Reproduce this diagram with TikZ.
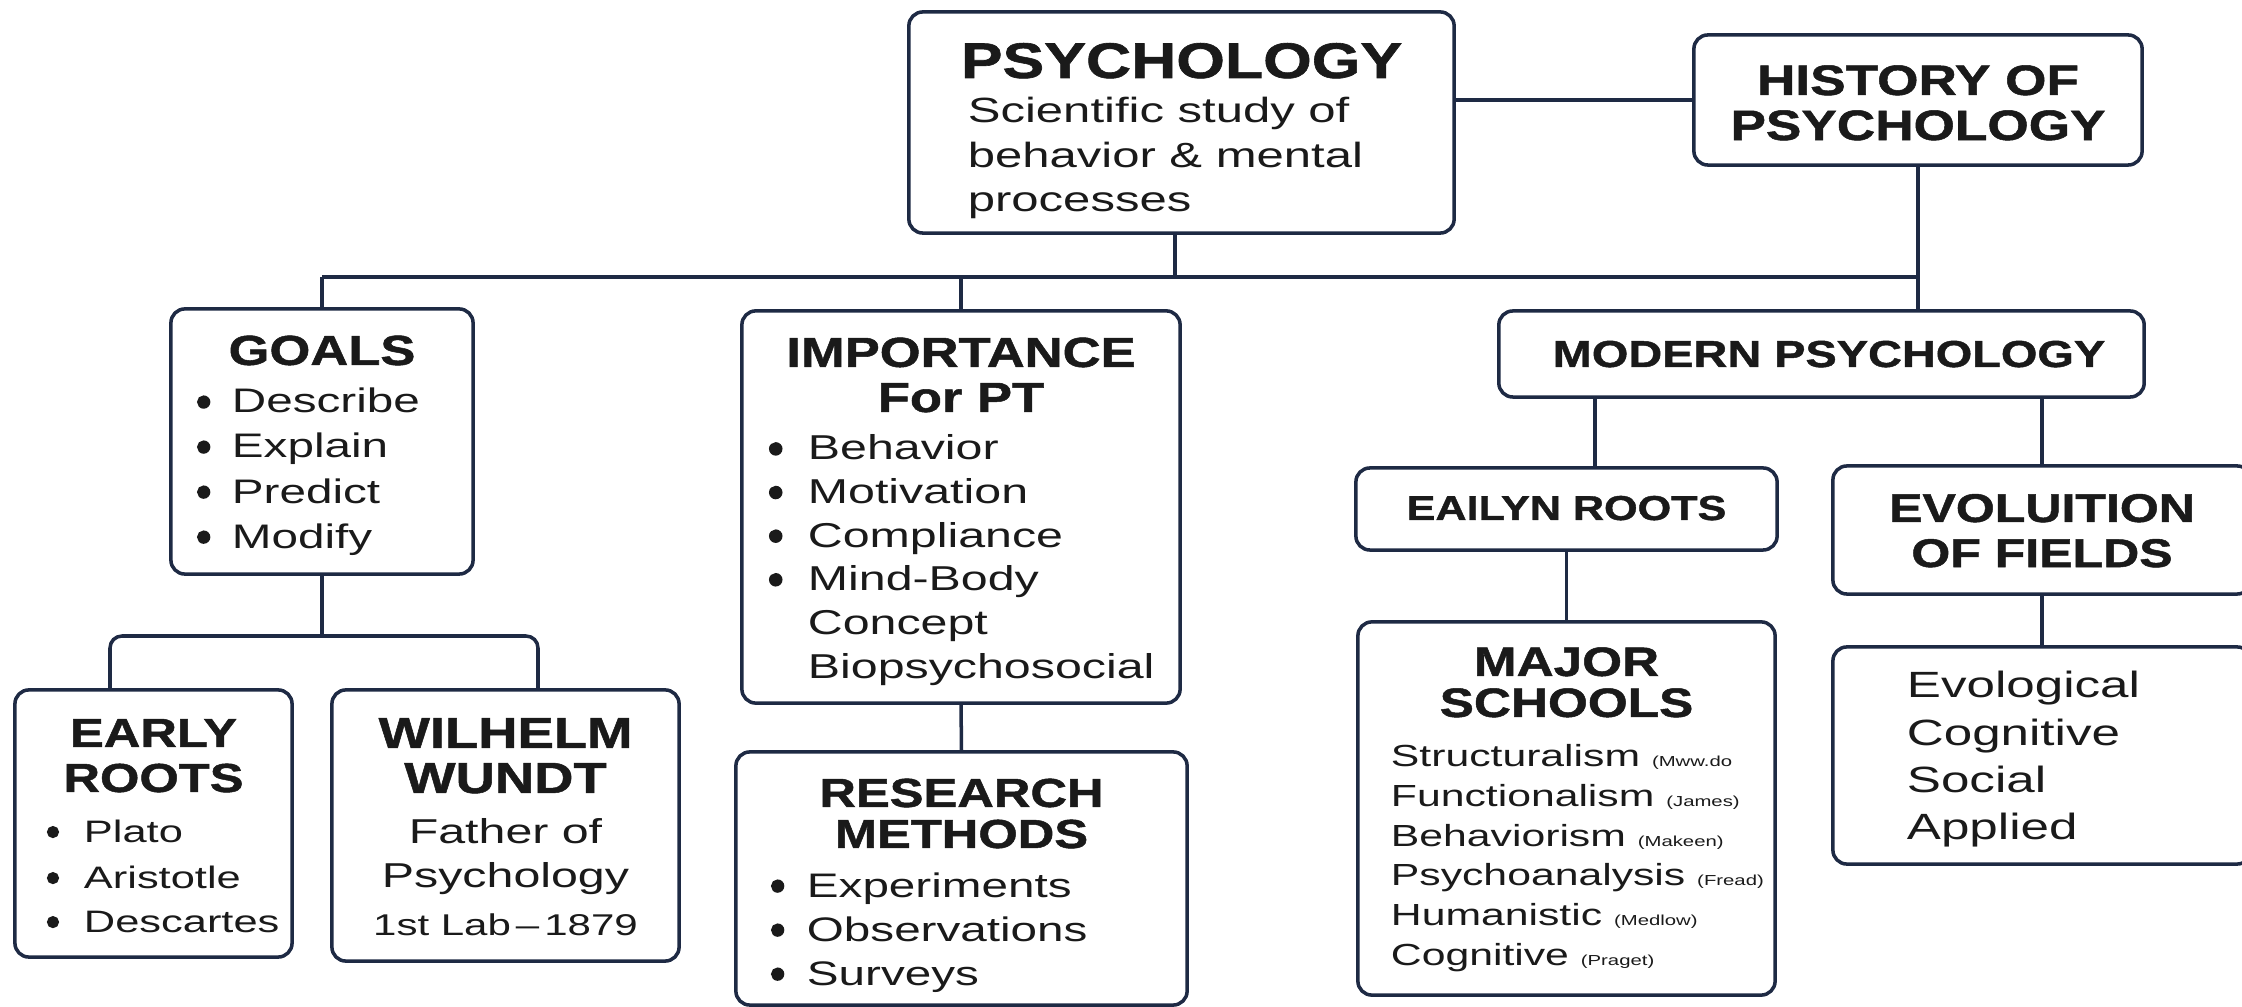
\documentclass[tikz,border=0pt]{standalone}
\usepackage{fontspec}
\usepackage{graphicx}
\newfontfamily\bodyfont{Liberation Sans}[FakeStretch=1.4]
\newfontfamily\headfont{Liberation Sans}[FakeStretch=1.25, FakeBold=1.2]
\newfontfamily\bulfont{Liberation Sans}[FakeBold=3]
\definecolor{navy}{HTML}{1E2A44}
\definecolor{ink}{HTML}{1A1A1A}
\setlength{\parskip}{0pt}
\newcommand{\boxcontent}[3]{\begin{minipage}[c][#2][t]{#1}#3\end{minipage}}
\newcommand{\HL}[3]{{\headfont\bfseries\fontsize{#1}{#2}\selectfont\centering #3\par}}
\newcommand{\BL}[4]{{\bodyfont\fontsize{#1}{#2}\selectfont\raggedright\hspace*{#3}#4\par}}
\newcommand{\dotmark}{{\bulfont\raisebox{-0.11em}{\scalebox{1.3}{•}}}}
\newcommand{\BU}[5]{{\bodyfont\fontsize{#1}{#2}\selectfont\raggedright\hspace*{#3}\makebox[#4][l]{\dotmark}#5\par}}
\newcommand{\CL}[3]{{\bodyfont\fontsize{#1}{#2}\selectfont\centering #3\par}}
\newcommand{\smp}[1]{{\fontsize{0.145cm}{0.17cm}\selectfont #1}}
\tikzset{
  card/.style={draw=navy, line width=1pt, rounded corners=0.14cm, fill=white,
    inner sep=0pt, outer sep=0pt, text=ink},
  conn/.style={draw=navy, line width=1pt}
}
\begin{document}
\begin{tikzpicture}[x=0.01cm, y=-0.01cm]
\fill[white] (0,0) rectangle (2242,1007);
\useasboundingbox (0,0) rectangle (2242,1007);

% ---------- boxes ----------
\node[card] (psych) at (1181.5,122.5) {\boxcontent{5.45cm}{2.21cm}{%
  \vspace*{0.26cm}%
  \HL{0.50cm}{0.5cm}{\rule{0pt}{0.40cm}PSYCHOLOGY}
  \BL{0.35cm}{0.45cm}{0.59cm}{Scientific study of}
  \BL{0.35cm}{0.44cm}{0.59cm}{behavior \& mental}
  \BL{0.35cm}{0.44cm}{0.59cm}{processes}}};

\node[card] (hist) at (1918,100) {\boxcontent{4.48cm}{1.30cm}{%
  \vspace*{0.26cm}%
  \HL{0.425cm}{0.45cm}{\rule{0pt}{0.34cm}HISTORY OF}
  \HL{0.425cm}{0.45cm}{PSYCHOLOGY}}};

\node[card] (goals) at (322,441.5) {\boxcontent{3.02cm}{2.65cm}{%
  \vspace*{0.22cm}%
  \HL{0.42cm}{0.45cm}{\rule{0pt}{0.34cm}GOALS}
  \BU{0.34cm}{0.48cm}{0.25cm}{0.36cm}{Describe}
  \BU{0.34cm}{0.45cm}{0.25cm}{0.36cm}{Explain}
  \BU{0.34cm}{0.45cm}{0.25cm}{0.36cm}{Predict}
  \BU{0.34cm}{0.45cm}{0.25cm}{0.36cm}{Modify}}};

\node[card] (imp) at (961,507) {\boxcontent{4.38cm}{3.92cm}{%
  \vspace*{0.23cm}%
  \HL{0.42cm}{0.45cm}{\rule{0pt}{0.33cm}IMPORTANCE}
  \HL{0.42cm}{0.45cm}{For PT}
  \BU{0.345cm}{0.48cm}{0.26cm}{0.40cm}{Behavior}
  \BU{0.345cm}{0.436cm}{0.26cm}{0.40cm}{Motivation}
  \BU{0.345cm}{0.436cm}{0.26cm}{0.40cm}{Compliance}
  \BU{0.345cm}{0.436cm}{0.26cm}{0.40cm}{Mind-Body}
  \BL{0.345cm}{0.436cm}{0.66cm}{Concept}
  \BL{0.345cm}{0.436cm}{0.66cm}{Biopsychosocial}}};

\node[card] (res) at (961.5,878.5) {\boxcontent{4.51cm}{2.53cm}{%
  \vspace*{0.23cm}%
  \HL{0.405cm}{0.41cm}{\rule{0pt}{0.32cm}RESEARCH}
  \HL{0.405cm}{0.41cm}{METHODS}
  \BU{0.34cm}{0.49cm}{0.34cm}{0.37cm}{Experiments}
  \BU{0.34cm}{0.44cm}{0.34cm}{0.37cm}{Observations}
  \BU{0.34cm}{0.44cm}{0.34cm}{0.37cm}{Surveys}}};

\node[card] (modern) at (1821.5,354) {\boxcontent{6.45cm}{0.86cm}{%
  \vspace*{0.27cm}%
  \HL{0.375cm}{0.4cm}{\rule{0pt}{0.29cm}\hspace*{0.15cm}MODERN PSYCHOLOGY}}};

\node[card] (eailyn) at (1566.5,509) {\boxcontent{4.21cm}{0.82cm}{%
  \vspace*{0.25cm}%
  \HL{0.345cm}{0.4cm}{\rule{0pt}{0.27cm}EAILYN ROOTS}}};

\node[card] (evol) at (2042,530) {\boxcontent{4.18cm}{1.28cm}{%
  \vspace*{0.25cm}%
  \HL{0.40cm}{0.45cm}{\rule{0pt}{0.31cm}EVOLUITION}
  \HL{0.40cm}{0.45cm}{OF FIELDS}}};

\node[card] (major) at (1566.5,808.5) {\boxcontent{4.17cm}{3.73cm}{%
  \vspace*{0.22cm}%
  \HL{0.41cm}{0.41cm}{\rule{0pt}{0.32cm}MAJOR}
  \HL{0.41cm}{0.41cm}{SCHOOLS}
  \BL{0.305cm}{0.50cm}{0.33cm}{Structuralism \smp{(Mww.do}}
  \BL{0.305cm}{0.396cm}{0.33cm}{Functionalism \smp{(James)}}
  \BL{0.305cm}{0.396cm}{0.33cm}{Behaviorism \smp{(Makeen)}}
  \BL{0.305cm}{0.396cm}{0.33cm}{Psychoanalysis \smp{(Fread)}}
  \BL{0.305cm}{0.396cm}{0.33cm}{Humanistic \smp{(Medlow)}}
  \BL{0.305cm}{0.396cm}{0.33cm}{Cognitive \smp{(Praget)}}}};

\node[card] (fields) at (2042,755.5) {\boxcontent{4.18cm}{2.17cm}{%
  \vspace*{0.22cm}%
  \BL{0.365cm}{0.473cm}{0.74cm}{\rule{0pt}{0.29cm}Evological}
  \BL{0.365cm}{0.473cm}{0.74cm}{Cognitive}
  \BL{0.365cm}{0.473cm}{0.74cm}{Social}
  \BL{0.365cm}{0.473cm}{0.74cm}{Applied}}};

\node[card] (early) at (153.5,823.5) {\boxcontent{2.77cm}{2.67cm}{%
  \vspace*{0.25cm}%
  \HL{0.405cm}{0.45cm}{\rule{0pt}{0.32cm}EARLY}
  \HL{0.405cm}{0.45cm}{ROOTS}
  \BU{0.31cm}{0.50cm}{0.31cm}{0.38cm}{Plato}
  \BU{0.31cm}{0.46cm}{0.31cm}{0.38cm}{Aristotle}
  \BU{0.31cm}{0.44cm}{0.31cm}{0.38cm}{Descartes}}};

\node[card] (wundt) at (505.5,825.5) {\boxcontent{3.47cm}{2.71cm}{%
  \vspace*{0.24cm}%
  \HL{0.435cm}{0.45cm}{\rule{0pt}{0.34cm}WILHELM}
  \HL{0.435cm}{0.45cm}{WUNDT}
  \CL{0.345cm}{0.50cm}{Father of}
  \CL{0.345cm}{0.44cm}{Psychology}
  \CL{0.30cm}{0.48cm}{1st Lab\,–\,1879}}};

% ---------- connector helpers ----------
\coordinate (bus) at (0,277);
\coordinate (brk) at (0,636);
\coordinate (pj) at (1175,0);
\coordinate (ej) at (110,0);
\coordinate (wj) at (538,0);
\coordinate (mj) at (1595,0);

% ---------- connectors ----------
\draw[conn] (psych.east |- hist.west) -- (hist.west);
\draw[conn] (goals.north |- bus) -- (hist.south |- bus);
\draw[conn] (pj |- psych.south) -- (pj |- bus);
\draw[conn] (goals.north) -- (goals.north |- bus);
\draw[conn] (imp.north) -- (imp.north |- bus);
\draw[conn] (hist.south) -- (modern.north -| hist.south);
\draw[conn] (goals.south) -- (goals.south |- brk);
\draw[conn, rounded corners=0.12cm] (ej |- early.north) |- (wj |- brk) -- (wj |- wundt.north);
\draw[conn] (imp.south) -- (res.north);
\draw[conn] (mj |- modern.south) -- (mj |- eailyn.north);
\draw[conn] (evol.north |- modern.south) -- (evol.north);
\draw[conn] (eailyn.south) -- (major.north);
\draw[conn] (evol.south) -- (fields.north);
\end{tikzpicture}
\end{document}
